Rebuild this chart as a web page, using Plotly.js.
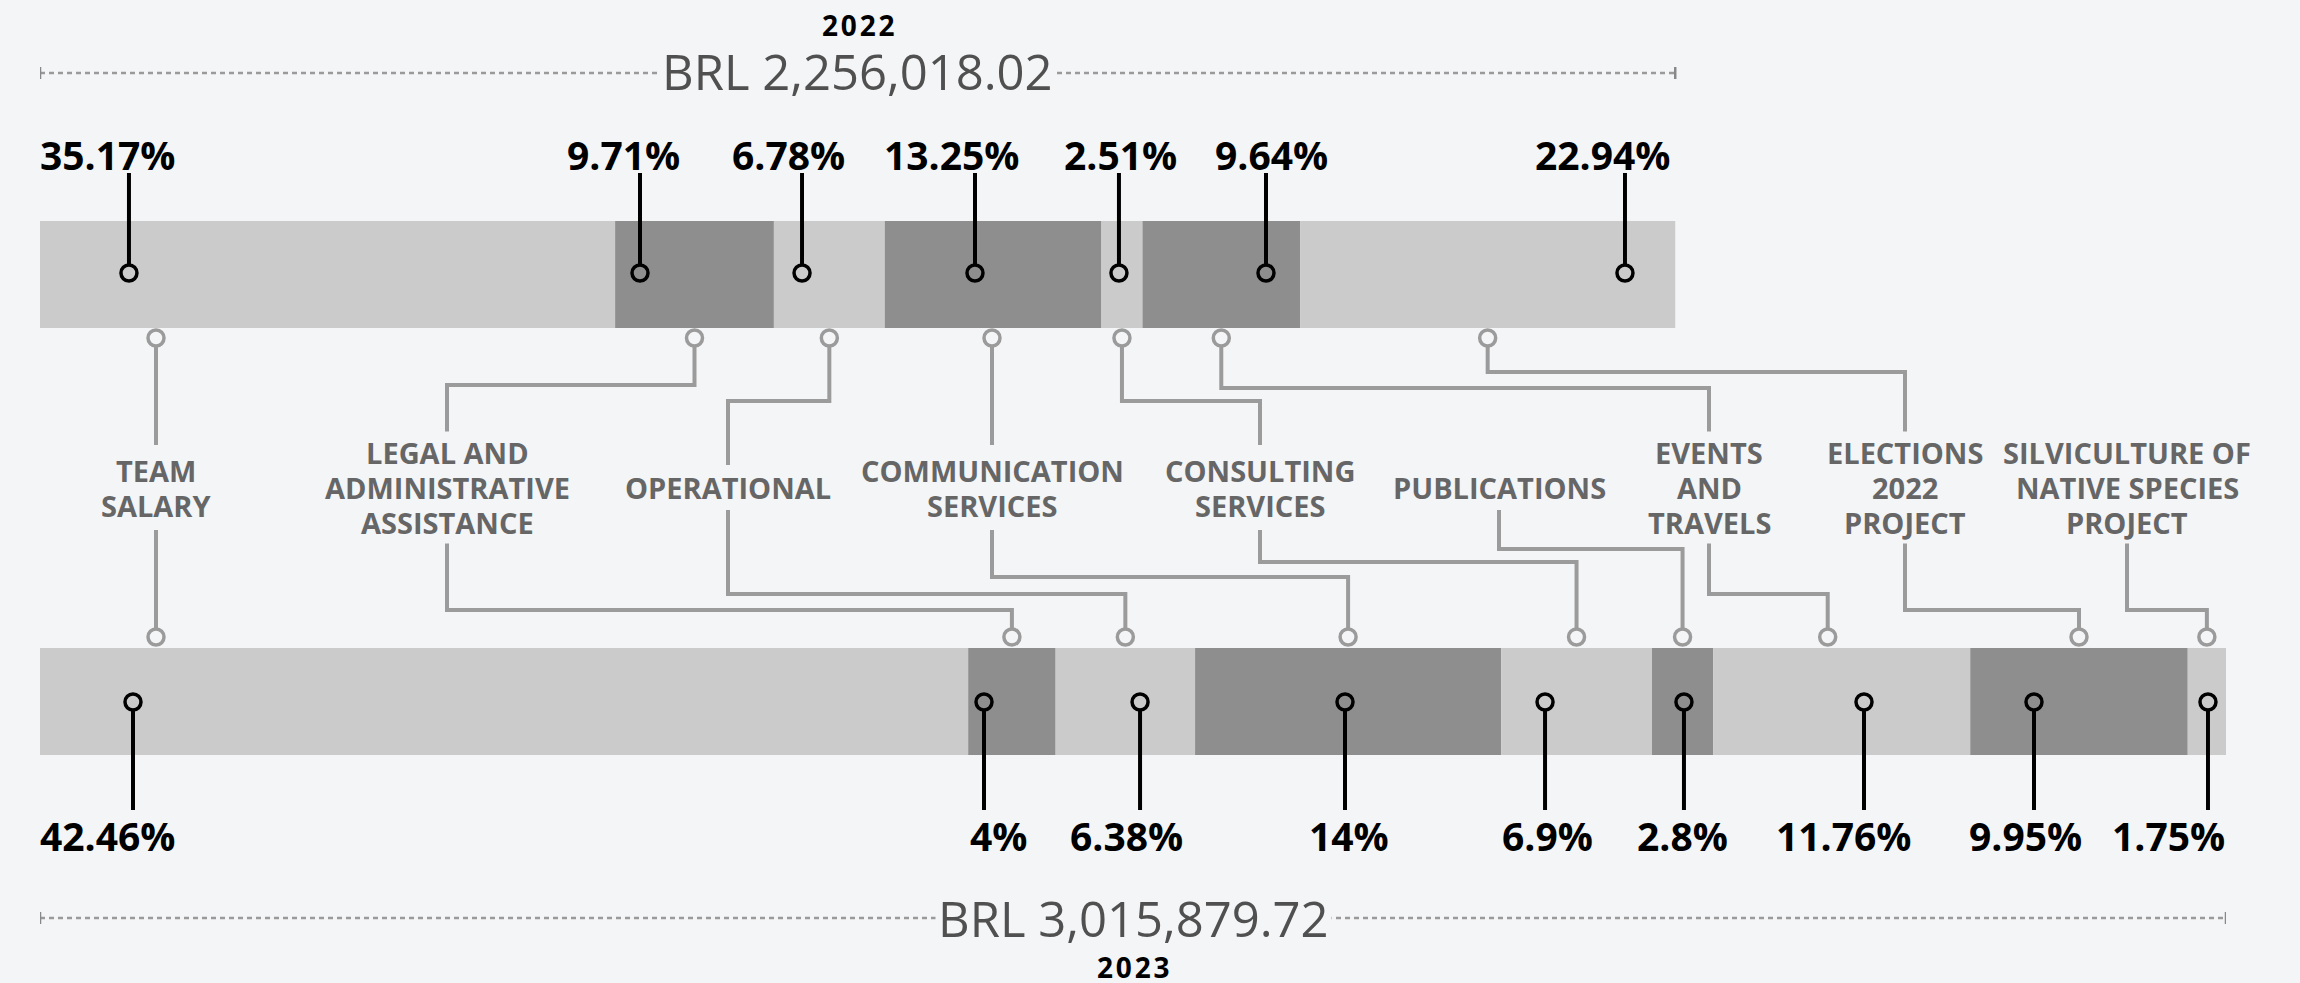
<!DOCTYPE html>
<html>
<head>
<meta charset="utf-8">
<script src="https://cdn.plot.ly/plotly-3.0.1.min.js"></script>
<style>
html,body{margin:0;padding:0;background:#f4f5f7;}
#chart{width:2300px;height:983px;}
</style>
</head>
<body>
<div id="chart"></div>
<script>
// ---------------- DATA ----------------
const categories = [
  "TEAM\nSALARY",
  "LEGAL AND\nADMINISTRATIVE\nASSISTANCE",
  "OPERATIONAL",
  "COMMUNICATION\nSERVICES",
  "CONSULTING\nSERVICES",
  "PUBLICATIONS",
  "EVENTS\nAND\nTRAVELS",
  "ELECTIONS\n2022\nPROJECT",
  "SILVICULTURE OF\nNATIVE SPECIES\nPROJECT"
];
const years = ["2022", "2023"];
const totals = [2256018.02, 3015879.72];
// category indices (into categories) for each year's bar, left to right
const cats2022 = [0, 1, 2, 3, 4, 6, 7];
const pct2022 = [35.17, 9.71, 6.78, 13.25, 2.51, 9.64, 22.94];
const cats2023 = [0, 1, 2, 3, 4, 5, 6, 7, 8];
const pct2023 = [42.46, 4, 6.38, 14, 6.9, 2.8, 11.76, 9.95, 1.75];

// ---------------- LAYOUT / STYLE ----------------
const W = 2300, H = 983;
const BG = '#f4f5f7', LIGHT = '#cbcbcb', DARK = '#8e8e8e';
const CONN = '#9b9b9b', LABEL = '#666666', TOTALC = '#505050', RULE = '#9a9a9a';
const G = {
  marginL: 40, marginR: 74,
  barY: [274.5, 701.5], barH: 107,
  pctY: [154, 835],
  pinY: [273, 702], pinR: 8,
  stemFar: [173, 810],
  connCircleY: [338, 637],
  labelMidY: 487.5, linePitch: 35, labelHalf: [22.5, 42.5, 56],
  totalY: [70.5, 917.5], yearY: [25, 967], ruleY: [73, 918], tickH: 12
};
// label placement (pixels): category label centres and connector elbow heights
const labelXpx = [156, 447, 728, 992, 1260, 1499, 1709, 1905, 2127];
const elbowTop = [null, 385, 401, null, 401, null, 388, 372, null];
const elbowBot = [null, 610, 594, 577, 562, 549, 594, 610, 610];
// nudge (pixels) of the bottom-bar connector anchors relative to segment centre
const connNudgeBot = [0, 0, 0, 0, 0, 0, -14, 0, 0];
// nudges (pixels) of percentage pins / labels relative to their segment centre
const pinNudge = [
  [-198.6, -54.5, -27.3, -18.1, -3, 44.7, 137.3],
  [-371.1, -27.9, 14.7, -3.1, -31.5, 1.4, 22.3, -45, 1.1]
];
const lblNudge = [
  [-219.6, -71.5, -41.3, -41.1, -1, 50.7, 115.3],
  [-396.1, -13.9, 0.7, 0.9, -29.5, 0.4, 1.3, -53, -37.9]
];

// ---------------- BUILD ----------------
const xmax = Math.max(...totals);
const plotW = W - G.marginL - G.marginR;
const dpx = xmax / plotW;                 // data units per pixel
const px2x = px => (px - G.marginL) * dpx;

const yearSets = [
  {cats: cats2022, pct: pct2022},
  {cats: cats2023, pct: pct2023}
];

const traces = [];
const annotations = [];
const stemX = [], stemY = [], pinX = [], pinYs = [];
const connX = [], connY = [], ccX = [], ccY = [];
const ruleX = [], ruleYs = [], tickX = [], tickY = [];

// category label lines
const labelTop = [], labelBot = [];
categories.forEach((c, ci) => {
  const lines = c.split('\n');
  const n = lines.length;
  lines.forEach((ln, j) => {
    annotations.push({
      x: px2x(labelXpx[ci]), y: G.labelMidY + (j - (n - 1) / 2) * G.linePitch,
      xref: 'x', yref: 'y', text: ln, showarrow: false,
      xanchor: 'center', yanchor: 'middle',
      font: {family: 'Open Sans', size: 29, weight: 700, color: LABEL}
    });
  });
  labelTop[ci] = G.labelMidY - G.labelHalf[n - 1];
  labelBot[ci] = G.labelMidY + G.labelHalf[n - 1];
});

yearSets.forEach((ys, yi) => {
  const total = totals[yi];
  const amounts = ys.pct.map(p => p / 100 * total);
  const bases = [];
  let acc = 0;
  amounts.forEach(a => { bases.push(acc); acc += a; });

  traces.push({
    type: 'bar', orientation: 'h',
    x: amounts, base: bases,
    y: amounts.map(() => G.barY[yi]),
    width: amounts.map(() => G.barH),
    marker: {color: amounts.map((_, k) => k % 2 ? DARK : LIGHT), line: {width: 0}},
    hoverinfo: 'skip', showlegend: false
  });

  const isTop = yi === 0;
  amounts.forEach((a, k) => {
    const cx = bases[k] + a / 2;
    // percentage pin
    const px = cx + pinNudge[yi][k] * dpx;
    const near = isTop ? G.pinY[yi] - G.pinR : G.pinY[yi] + G.pinR;
    stemX.push(px, px, null);
    stemY.push(G.stemFar[yi], near, null);
    pinX.push(px); pinYs.push(G.pinY[yi]);
    annotations.push({
      x: cx + lblNudge[yi][k] * dpx, y: G.pctY[yi], xref: 'x', yref: 'y',
      text: ys.pct[k] + '%', showarrow: false, xanchor: 'center', yanchor: 'middle',
      font: {family: 'Open Sans', size: 39, weight: 700, color: '#000000'}
    });
    // connector to category label
    const ci = ys.cats[k];
    const lx = px2x(labelXpx[ci]);
    const straight = lx >= bases[k] && lx <= bases[k] + a;
    const ax = straight ? lx : cx + (isTop ? 0 : connNudgeBot[ci]) * dpx;
    const cy = G.connCircleY[yi];
    ccX.push(ax); ccY.push(cy);
    const start = isTop ? cy + G.pinR : cy - G.pinR;
    const lend = isTop ? labelTop[ci] : labelBot[ci];
    if (straight) {
      connX.push(ax, ax, null); connY.push(start, lend, null);
    } else {
      const ey = isTop ? elbowTop[ci] : elbowBot[ci];
      connX.push(ax, ax, lx, lx, null); connY.push(start, ey, ey, lend, null);
    }
  });

  // total rule
  ruleX.push(0, total, null); ruleYs.push(G.ruleY[yi], G.ruleY[yi], null);
  [0, total].forEach(tx => {
    tickX.push(tx, tx, null);
    tickY.push(G.ruleY[yi] - G.tickH / 2, G.ruleY[yi] + G.tickH / 2, null);
  });
  annotations.push({
    x: total / 2, y: G.totalY[yi], xref: 'x', yref: 'y',
    text: 'BRL ' + total.toLocaleString('en-US', {minimumFractionDigits: 2, maximumFractionDigits: 2}),
    showarrow: false, xanchor: 'center', yanchor: 'middle',
    bgcolor: BG, borderpad: 2,
    font: {family: 'Open Sans', size: 49, weight: 400, color: TOTALC}
  });
  annotations.push({
    x: total / 2, y: G.yearY[yi], xref: 'x', yref: 'y',
    text: years[yi].split('').join('\u200A'),
    showarrow: false, xanchor: 'center', yanchor: 'middle',
    font: {family: 'Open Sans, DejaVu Sans', size: 28, weight: 700, color: '#000000'}
  });
});

const common = {hoverinfo: 'skip', showlegend: false, cliponaxis: false, type: 'scatter'};
traces.push(Object.assign({}, common, {x: ruleX, y: ruleYs, mode: 'lines', line: {color: RULE, width: 2.5, dash: '5px,4px'}}));
traces.push(Object.assign({}, common, {x: tickX, y: tickY, mode: 'lines', line: {color: '#888888', width: 2.5}}));
traces.push(Object.assign({}, common, {x: connX, y: connY, mode: 'lines', line: {color: CONN, width: 4}}));
traces.push(Object.assign({}, common, {x: ccX, y: ccY, mode: 'markers',
  marker: {symbol: 'circle-open', size: 16, color: CONN, line: {width: 3.5, color: CONN}}}));
traces.push(Object.assign({}, common, {x: stemX, y: stemY, mode: 'lines', line: {color: '#000000', width: 4}}));
traces.push(Object.assign({}, common, {x: pinX, y: pinYs, mode: 'markers',
  marker: {symbol: 'circle-open', size: 16, color: '#000000', line: {width: 3.5, color: '#000000'}}}));

const layout = {
  width: W, height: H, autosize: false,
  margin: {l: G.marginL, r: G.marginR, t: 0, b: 0, pad: 0},
  paper_bgcolor: BG, plot_bgcolor: BG,
  barmode: 'overlay', showlegend: false, hovermode: false,
  xaxis: {range: [0, xmax], visible: false, fixedrange: true},
  yaxis: {range: [H, 0], visible: false, fixedrange: true},
  annotations: annotations
};

Plotly.newPlot('chart', traces, layout, {staticPlot: true, displayModeBar: false});
</script>
</body>
</html>
